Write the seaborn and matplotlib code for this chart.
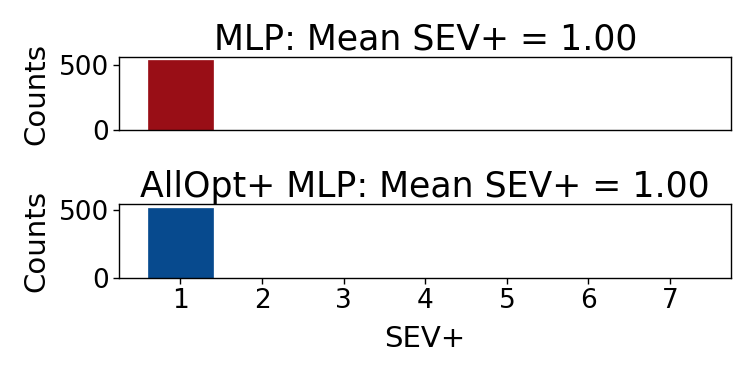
import matplotlib
matplotlib.use("Agg")
import matplotlib.pyplot as plt
import seaborn as sns
import pandas as pd

sev_values = [1, 2, 3, 4, 5, 6, 7]
mlp_counts = [535, 0, 0, 0, 0, 0, 0]
allopt_counts = [518, 0, 0, 0, 0, 0, 0]
titles = ["MLP: Mean SEV+ = 1.00", "AllOpt+ MLP: Mean SEV+ = 1.00"]
colors = ["#990e16", "#074a8e"]

sns.set_style("ticks")
plt.rcParams["font.family"] = ["DejaVu Sans"]
plt.rcParams["text.color"] = "black"
plt.rcParams["axes.labelcolor"] = "black"
plt.rcParams["xtick.color"] = "black"
plt.rcParams["ytick.color"] = "black"

fig = plt.figure(figsize=(7.5, 3.75), dpi=100)
ax_top = fig.add_axes([0.159, 0.653, 0.816, 0.195])
ax_bot = fig.add_axes([0.159, 0.259, 0.816, 0.197])

for ax, counts, title, color in zip(
    [ax_top, ax_bot], [mlp_counts, allopt_counts], titles, colors
):
    df = pd.DataFrame({"sev": sev_values, "count": counts})
    sns.barplot(
        data=df, x="sev", y="count", native_scale=True, width=0.8,
        color=color, saturation=1, ax=ax, edgecolor=color, linewidth=0.5
    )
    ax.set_xlim(0.25, 7.75)
    ax.set_ylim(0, max(counts) * 1.05)
    ax.set_yticks([0, 500])
    ax.set_title(title, fontsize=25, pad=5)
    ax.set_ylabel("Counts", fontsize=21, labelpad=6)
    ax.tick_params(labelsize=19, length=4, width=1, color="black")
    for s in ax.spines.values():
        s.set_color("black")
        s.set_linewidth(1)

ax_top.set_xticks(sev_values)
ax_top.set_xticklabels([])
ax_top.tick_params(axis="x", length=0)
ax_top.set_xlabel("")
ax_bot.set_xticks(sev_values)
ax_bot.set_xlabel("SEV+", fontsize=21, labelpad=8)

fig.savefig("out.png", dpi=100)
